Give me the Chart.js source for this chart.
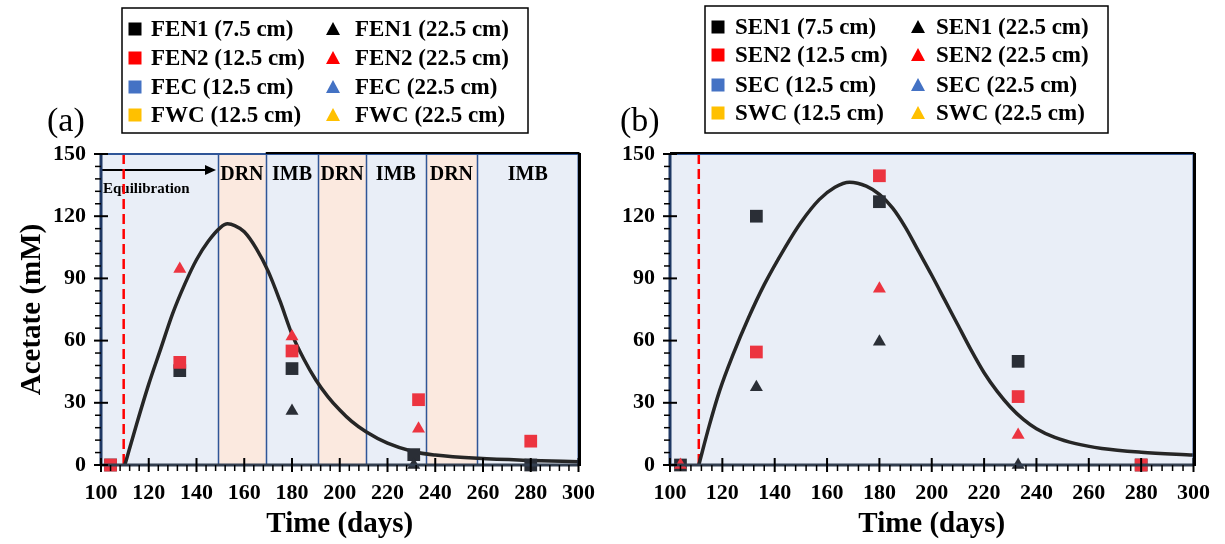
<!DOCTYPE html>
<html lang="en">
<head>
<meta charset="UTF-8">
<title>Acetate</title>
<style>
  body { margin: 0; background: #fff; }
  #wrap { position: relative; width: 1225px; height: 544px; }
  #chartA { position: absolute; left: 0; top: 0; }
  #chartB { position: absolute; left: 610px; top: 0; }
</style>
</head>
<body>
<div id="wrap">
  <canvas id="chartA" width="610" height="544"></canvas>
  <canvas id="chartB" width="615" height="544"></canvas>
</div>

<script src="https://cdn.jsdelivr.net/npm/chart.js"></script>
<script>
"use strict"

// ---------- panel (a) data ----------
const fen1SqDays = [104, 133, 180, 231, 280]
const fen1SqVals = [0, 45.5, 46.5, 5, 0]
const fen2SqDays = [104, 133, 180, 233, 280]
const fen2SqVals = [0, 49.5, 55, 31.5, 11.5]
const fen1TriDays = [180, 231]
const fen1TriVals = [26, 0]
const fen2TriDays = [133, 180, 233]
const fen2TriVals = [94.5, 62, 17.5]

const fitADays = [110, 115, 120, 125, 130, 135, 140, 145, 150, 153, 156, 160, 165, 170, 175, 180, 185, 190, 195, 200, 205, 211, 220, 231, 240, 258, 280, 300]
const fitAVals = [0, 20, 39, 56, 73, 87, 99, 108, 114.5, 116.3, 115.5, 112.5, 104.5, 93.5, 79, 63, 51, 41, 33, 26.5, 21, 16, 10.5, 6.4, 4.8, 3.2, 2.2, 1.6]

const phaseEdges = [100, 149, 169, 191, 211, 236, 257.5, 300]
const phaseNames = ['', 'DRN', 'IMB', 'DRN', 'IMB', 'DRN', 'IMB']
const equilEndA = 149
const startLineA = 109.5

// ---------- panel (b) data ----------
const sen1SqDays = [104, 133, 180, 233, 280]
const sen1SqVals = [0, 120, 127, 50, 0]
const sen2SqDays = [133, 180, 233, 280]
const sen2SqVals = [54.5, 139.5, 33, 0]
const sen1TriDays = [133, 180, 233]
const sen1TriVals = [37.5, 59.5, 0]
const sen2TriDays = [104, 180, 233]
const sen2TriVals = [0, 85, 14.5]

const fitBDays = [111, 115, 119, 124, 130, 136, 144, 150, 157, 163, 168.6, 175, 180, 185, 190, 195, 200, 205, 210, 215, 220, 225, 230, 235, 240, 247, 255, 265, 280, 300]
const fitBVals = [0, 19, 36, 53, 71, 87, 105, 117, 128, 134, 136.4, 134.5, 130.5, 124, 114.5, 103, 91.5, 79.5, 67.5, 55.5, 44.5, 35.5, 28, 22, 17.5, 13.3, 10.3, 8, 6.2, 4.8]

const startLineB = 111

const SERIF = "'Times New Roman', 'Liberation Serif', serif"
const BLUE_BG = '#E9EEF7'
const ORANGE_BG = '#FBE9DF'
const DOT_BLACK = '#2A2E36'
const DOT_RED = '#EC3440'

function pts(xs, ys) {
    return xs.map((d, i) => ({x: d, y: ys[i]}))
}

function markerSet(label, xs, ys, style, color, legendColor, row, order) {
    return {
        label: label,
        data: pts(xs, ys),
        pointStyle: style,
        pointRadius: style === 'rect' ? 9 : 7.5,
        pointBackgroundColor: color,
        pointBorderColor: color,
        pointBorderWidth: 0,
        showLine: false,
        clip: false,
        legendColor: legendColor,
        legendRow: row,
        order: order
    }
}

function curveSet(xs, ys) {
    return {
        label: 'fit',
        data: pts(xs, ys),
        showLine: true,
        pointRadius: 0,
        borderColor: '#262626',
        borderWidth: 3.5,
        cubicInterpolationMode: 'monotone',
        order: 10
    }
}

// draws background, phases, ticks, border, legend box and panel letter
const panelDecor = {
    id: 'panelDecor',
    beforeDatasetsDraw(chart, args, o) {
        const {ctx, chartArea: a, scales: {x, y}} = chart
        ctx.save()
        ctx.fillStyle = BLUE_BG
        ctx.fillRect(a.left, a.top, a.width, a.height)

        if (o.phases) {
            const edges = o.phases.edges
            const names = o.phases.names
            for (let i = 0; i < names.length; i++) {
                if (names[i] !== 'DRN') continue
                const x0 = x.getPixelForValue(edges[i])
                const x1 = x.getPixelForValue(edges[i + 1])
                ctx.fillStyle = ORANGE_BG
                ctx.fillRect(x0, a.top, x1 - x0, a.height)
            }
            ctx.strokeStyle = '#2F5597'
            ctx.lineWidth = 1.5
            for (let i = 1; i < edges.length - 1; i++) {
                const px = Math.round(x.getPixelForValue(edges[i])) + 0.5
                ctx.beginPath()
                ctx.moveTo(px, a.top)
                ctx.lineTo(px, a.bottom)
                ctx.stroke()
            }
            ctx.fillStyle = '#000'
            ctx.font = 'bold 20px ' + SERIF
            ctx.textAlign = 'center'
            ctx.textBaseline = 'alphabetic'
            for (let i = 0; i < names.length; i++) {
                if (!names[i]) continue
                const cx = (x.getPixelForValue(edges[i]) + x.getPixelForValue(edges[i + 1])) / 2
                ctx.fillText(names[i], cx, a.top + 26)
            }
            // equilibration arrow
            const ax0 = x.getPixelForValue(100) + 1
            const ax1 = x.getPixelForValue(o.phases.equilEnd) - 2
            const ay = a.top + 16
            ctx.strokeStyle = '#000'
            ctx.lineWidth = 2
            ctx.beginPath()
            ctx.moveTo(ax0, ay)
            ctx.lineTo(ax1 - 8, ay)
            ctx.stroke()
            ctx.beginPath()
            ctx.moveTo(ax1, ay)
            ctx.lineTo(ax1 - 11, ay - 5)
            ctx.lineTo(ax1 - 11, ay + 5)
            ctx.closePath()
            ctx.fill()
            ctx.font = 'bold 15px ' + SERIF
            ctx.textAlign = 'left'
            ctx.fillText('Equilibration', a.left + 2, a.top + 39)
        }

        // start of experiment
        const sx = x.getPixelForValue(o.startLine)
        ctx.strokeStyle = '#FF0000'
        ctx.lineWidth = 2.5
        ctx.setLineDash([10, 5])
        ctx.beginPath()
        ctx.moveTo(sx, a.top)
        ctx.lineTo(sx, a.bottom)
        ctx.stroke()
        ctx.restore()
    },
    afterDatasetsDraw(chart, args, o) {
        const {ctx, chartArea: a, scales: {x, y}} = chart
        ctx.save()
        // frame
        ctx.strokeStyle = '#2F5597'
        ctx.lineWidth = 2
        ctx.strokeRect(a.left, a.top, a.width, a.height)
        ctx.strokeStyle = '#1F3864'
        ctx.lineWidth = 3
        ctx.beginPath()
        ctx.moveTo(a.left, a.top)
        ctx.lineTo(a.left, a.bottom)
        ctx.stroke()
        ctx.strokeStyle = '#333F50'
        ctx.beginPath()
        ctx.moveTo(a.left, a.bottom)
        ctx.lineTo(a.right, a.bottom)
        ctx.stroke()
        ctx.strokeStyle = '#000'
        ctx.beginPath()
        ctx.moveTo(a.right + 1, a.top - 1)
        ctx.lineTo(a.right + 1, a.bottom + 1)
        ctx.stroke()
        ctx.lineWidth = 2
        ctx.beginPath()
        ctx.moveTo(x.getPixelForValue(o.topBlackFrom), a.top - 1)
        ctx.lineTo(a.right + 1, a.top - 1)
        ctx.stroke()

        // ticks
        ctx.strokeStyle = '#000'
        for (let v = 0; v <= 150; v += 6) {
            const py = y.getPixelForValue(v)
            const major = v % 30 === 0
            ctx.lineWidth = major ? 2 : 1.5
            ctx.beginPath()
            ctx.moveTo(a.left - (major ? 7 : 6), py)
            ctx.lineTo(a.left + (major ? 7 : 0), py)
            ctx.stroke()
        }
        for (let d = 100; d <= 300; d += 4) {
            const px = x.getPixelForValue(d)
            const major = (d - 100) % 20 === 0
            ctx.lineWidth = major ? 2 : 1.5
            ctx.beginPath()
            ctx.moveTo(px, a.bottom - (major ? 7 : 0))
            ctx.lineTo(px, a.bottom + (major ? 7 : 6))
            ctx.stroke()
        }
        ctx.restore()
    },
    afterDraw(chart, args, o) {
        const ctx = chart.ctx
        const lg = o.legend
        ctx.save()
        ctx.strokeStyle = '#000'
        ctx.lineWidth = 1.5
        ctx.strokeRect(lg.x, lg.y, lg.w, lg.h)
        ctx.font = 'bold 23px ' + SERIF
        ctx.textBaseline = 'middle'
        ctx.textAlign = 'left'
        chart.data.datasets.forEach(ds => {
            if (ds.legendRow === undefined) return
            const col = ds.pointStyle === 'triangle' ? 1 : 0
            const mx = lg.markerX[col]
            const my = lg.rowY[ds.legendRow]
            ctx.fillStyle = ds.legendColor
            if (col === 0) {
                ctx.fillRect(mx - 6.5, my - 6.5, 13, 13)
            } else {
                ctx.beginPath()
                ctx.moveTo(mx, my - 7)
                ctx.lineTo(mx + 7, my + 6)
                ctx.lineTo(mx - 7, my + 6)
                ctx.closePath()
                ctx.fill()
            }
            ctx.fillStyle = '#000'
            ctx.fillText(ds.label, lg.textX[col], my + 1)
        })
        ctx.font = '34px ' + SERIF
        ctx.textBaseline = 'alphabetic'
        ctx.fillText(o.letter, o.letterX, 131)
        ctx.restore()
    }
}

function makeOptions(opt) {
    const tickFont = {family: SERIF, size: 22, weight: 'bold'}
    return {
        responsive: false,
        animation: false,
        events: [],
        layout: {padding: {top: 154, right: opt.padRight, left: 0, bottom: 0}},
        scales: {
            x: {
                type: 'linear',
                min: 100,
                max: 300,
                ticks: {stepSize: 20, padding: 15, color: '#000', font: tickFont, maxRotation: 0},
                grid: {display: false, drawTicks: false},
                border: {display: false},
                title: {display: true, text: 'Time (days)', color: '#000',
                    font: {family: SERIF, size: 29, weight: 'bold'}, padding: {top: 0, bottom: 2}},
                afterFit: s => { s.height = 79 }
            },
            y: {
                type: 'linear',
                min: 0,
                max: 150,
                ticks: {stepSize: 30, padding: 15, color: '#000', font: tickFont},
                grid: {display: false, drawTicks: false},
                border: {display: false},
                title: {display: opt.yTitle, text: 'Acetate (mM)', color: '#000',
                    font: {family: SERIF, size: 29, weight: 'bold'}, padding: {top: 15, bottom: 0}},
                afterFit: s => { s.width = opt.yWidth }
            }
        },
        plugins: {
            legend: {display: false},
            tooltip: {enabled: false},
            panelDecor: opt.decor
        }
    }
}

// Panel (a)
const chartA = new Chart(document.getElementById('chartA'), {
    type: 'scatter',
    data: {
        datasets: [
            markerSet('FEN1 (7.5 cm)', fen1SqDays, fen1SqVals, 'rect', DOT_BLACK, '#000000', 0, 3),
            markerSet('FEN2 (12.5 cm)', fen2SqDays, fen2SqVals, 'rect', DOT_RED, '#FF0000', 1, 2),
            markerSet('FEC (12.5 cm)', [], [], 'rect', '#4472C4', '#4472C4', 2, 4),
            markerSet('FWC (12.5 cm)', [], [], 'rect', '#FFC000', '#FFC000', 3, 4),
            markerSet('FEN1 (22.5 cm)', fen1TriDays, fen1TriVals, 'triangle', DOT_BLACK, '#000000', 0, 1),
            markerSet('FEN2 (22.5 cm)', fen2TriDays, fen2TriVals, 'triangle', DOT_RED, '#FF0000', 1, 0),
            markerSet('FEC (22.5 cm)', [], [], 'triangle', '#4472C4', '#4472C4', 2, 4),
            markerSet('FWC (22.5 cm)', [], [], 'triangle', '#FFC000', '#FFC000', 3, 4),
            curveSet(fitADays, fitAVals)
        ]
    },
    options: makeOptions({
        padRight: 28,
        yWidth: 101,
        yTitle: true,
        decor: {
            phases: {edges: phaseEdges, names: phaseNames, equilEnd: equilEndA},
            startLine: startLineA,
            topBlackFrom: 169,
            letter: '(a)',
            letterX: 47,
            legend: {x: 122, y: 8, w: 406, h: 125, markerX: [135, 333], textX: [151, 355], rowY: [29, 58, 87, 115]}
        }
    }),
    plugins: [panelDecor]
})

// Panel (b)
const chartB = new Chart(document.getElementById('chartB'), {
    type: 'scatter',
    data: {
        datasets: [
            markerSet('SEN1 (7.5 cm)', sen1SqDays, sen1SqVals, 'rect', DOT_BLACK, '#000000', 0, 3),
            markerSet('SEN2 (12.5 cm)', sen2SqDays, sen2SqVals, 'rect', DOT_RED, '#FF0000', 1, 2),
            markerSet('SEC (12.5 cm)', [], [], 'rect', '#4472C4', '#4472C4', 2, 4),
            markerSet('SWC (12.5 cm)', [], [], 'rect', '#FFC000', '#FFC000', 3, 4),
            markerSet('SEN1 (22.5 cm)', sen1TriDays, sen1TriVals, 'triangle', DOT_BLACK, '#000000', 0, 1),
            markerSet('SEN2 (22.5 cm)', sen2TriDays, sen2TriVals, 'triangle', DOT_RED, '#FF0000', 1, 0),
            markerSet('SEC (22.5 cm)', [], [], 'triangle', '#4472C4', '#4472C4', 2, 4),
            markerSet('SWC (22.5 cm)', [], [], 'triangle', '#FFC000', '#FFC000', 3, 4),
            curveSet(fitBDays, fitBVals)
        ]
    },
    options: makeOptions({
        padRight: 25,
        yWidth: 60,
        yTitle: false,
        decor: {
            startLine: startLineB,
            topBlackFrom: 100,
            letter: '(b)',
            letterX: 10,
            legend: {x: 95, y: 6, w: 403, h: 127, markerX: [108, 308], textX: [125, 326], rowY: [27, 55, 85, 113]}
        }
    }),
    plugins: [panelDecor]
})
</script>
</body>
</html>
